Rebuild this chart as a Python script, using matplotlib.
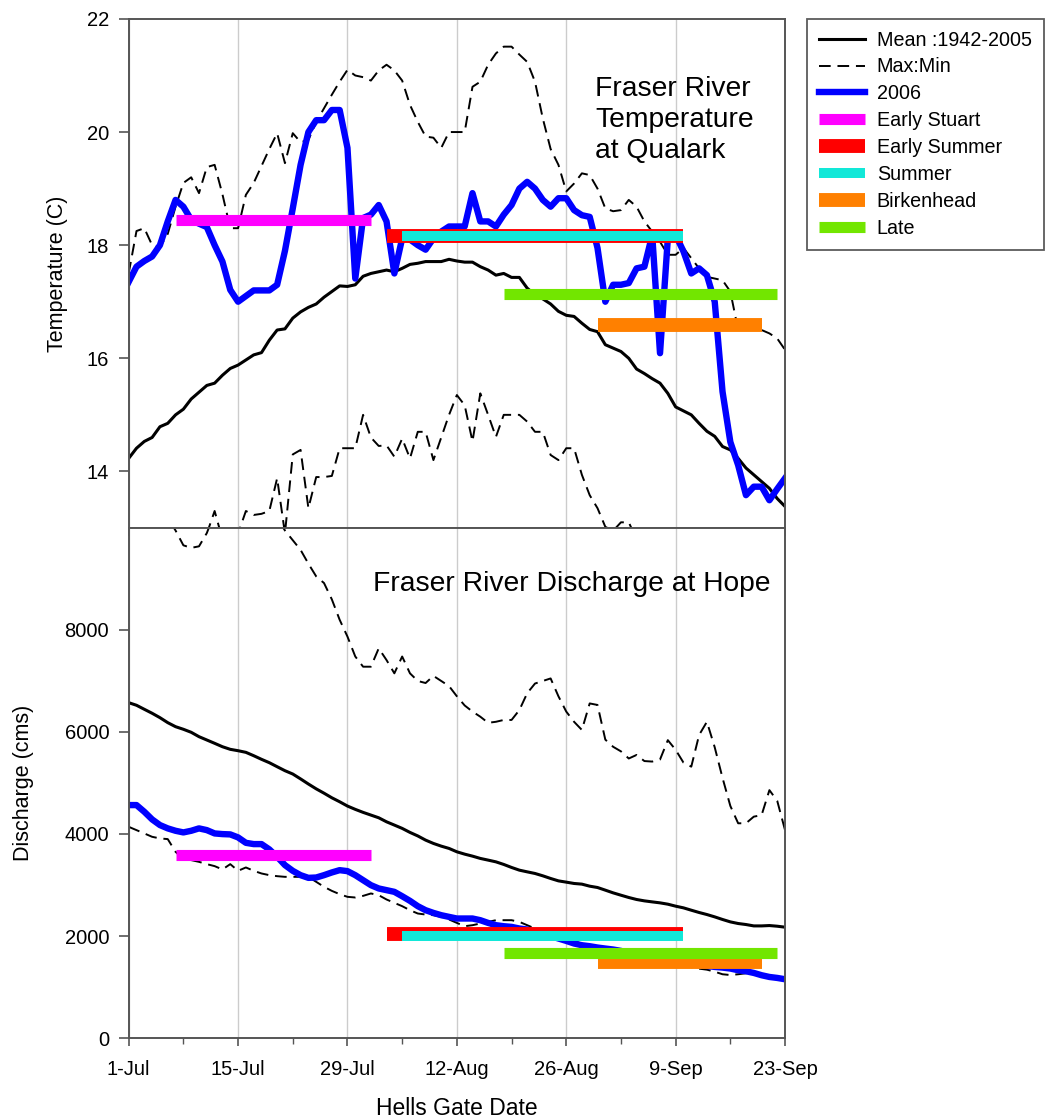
import matplotlib
matplotlib.use("Agg")
import matplotlib.pyplot as plt
from matplotlib.ticker import MultipleLocator, FixedLocator

plt.rcParams["font.family"] = ["Liberation Sans", "DejaVu Sans"]

# day index 0 = 1-Jul
TICK_DAYS = [0, 14, 28, 42, 56, 70, 84]
TICK_LABELS = ["1-Jul", "15-Jul", "29-Jul", "12-Aug", "26-Aug", "9-Sep", "23-Sep"]

TEMP_MEAN = [14.23, 14.41, 14.53, 14.60, 14.79, 14.85, 15.00, 15.10, 15.28, 15.40,
             15.52, 15.56, 15.70, 15.82, 15.88, 15.97, 16.06, 16.10, 16.32, 16.50,
             16.52, 16.71, 16.82, 16.90, 16.96, 17.08, 17.18, 17.28, 17.27, 17.30,
             17.45, 17.50, 17.53, 17.56, 17.53, 17.59, 17.66, 17.68, 17.71, 17.71,
             17.71, 17.75, 17.72, 17.70, 17.70, 17.62, 17.56, 17.47, 17.50, 17.43,
             17.43, 17.24, 17.12, 17.05, 16.96, 16.83, 16.76, 16.74, 16.62, 16.51,
             16.47, 16.24, 16.18, 16.12, 16.00, 15.81, 15.73, 15.64, 15.56, 15.38,
             15.14, 15.07, 15.00, 14.85, 14.71, 14.62, 14.44, 14.38, 14.23, 14.06,
             13.94, 13.82, 13.70, 13.52, 13.38]
TEMP_MAX = [17.5, 18.25, 18.3, 18.0, 17.97, 18.2, 18.68, 19.1, 19.2, 18.92,
            19.38, 19.42, 18.9, 18.3, 18.3, 18.89, 19.1, 19.4, 19.7, 19.98,
            19.45, 19.98, 19.82, 19.86, 20.18, 20.42, 20.66, 20.89, 21.1, 21.0,
            20.97, 20.91, 21.09, 21.19, 21.09, 20.91, 20.48, 20.18, 19.92, 19.9,
            19.72, 20.0, 20.0, 20.0, 20.8, 20.89, 21.19, 21.39, 21.51, 21.51,
            21.37, 21.24, 20.89, 20.24, 19.7, 19.42, 18.95, 19.09, 19.27, 19.24,
            19.0, 18.65, 18.6, 18.62, 18.8, 18.68, 18.42, 18.24, 18.06, 17.83,
            17.83, 17.95, 17.77, 17.59, 17.44, 17.41, 17.38, 17.18, 16.5, 16.5,
            16.5, 16.5, 16.44, 16.35, 16.15]
TEMP_MIN = [12.5, 12.4, 12.3, 12.2, 12.4, 12.6, 12.8, 12.6, 12.4, 12.6,
            12.9, 13.3, 12.8, 12.5, 12.9, 13.3, 13.23, 13.25, 13.3, 13.88,
            12.9, 14.3, 14.38, 13.35, 13.9, 13.9, 13.92, 14.41, 14.41, 14.41,
            15.0, 14.6, 14.45, 14.46, 14.26, 14.58, 14.23, 14.70, 14.7, 14.2,
            14.6, 15.0, 15.35, 15.17, 14.53, 15.38, 15.0, 14.61, 15.0, 15.0,
            15.0, 14.88, 14.7, 14.7, 14.29, 14.2, 14.41, 14.41, 13.94, 13.58,
            13.35, 13.02, 12.95, 13.1, 13.1, 12.8, 12.6, 12.4, 12.3, 12.2,
            12.0, 11.9, 11.8, 11.7, 11.6, 11.5, 11.3, 11.2, 11.0, 10.9,
            10.8, 10.6, 10.5, 10.4, 10.3]
TEMP_2006 = [17.35, 17.62, 17.72, 17.80, 18.0, 18.42, 18.80, 18.68, 18.45, 18.38,
             18.32, 18.0, 17.71, 17.21, 17.0, 17.1, 17.2, 17.2, 17.2, 17.3,
             17.9, 18.65, 19.42, 20.0, 20.21, 20.21, 20.39, 20.39, 19.72, 17.41,
             18.48, 18.54, 18.71, 18.42, 17.50, 18.12, 18.1, 18.0, 17.92, 18.12,
             18.24, 18.33, 18.33, 18.33, 18.92, 18.42, 18.42, 18.33, 18.54, 18.71,
             19.0, 19.12, 19.0, 18.80, 18.68, 18.83, 18.83, 18.62, 18.53, 18.5,
             17.95, 17.0, 17.3, 17.3, 17.33, 17.59, 17.62, 18.18, 16.09, 18.12,
             18.18, 17.89, 17.5, 17.59, 17.47, 17.0, 15.41, 14.52, 14.11, 13.58,
             13.73, 13.73, 13.49, 13.69, 13.88]

DIS_MEAN = [6575, 6524, 6445, 6367, 6281, 6183, 6104, 6053, 5994, 5908,
            5843, 5778, 5711, 5660, 5633, 5601, 5535, 5464, 5398, 5319,
            5241, 5176, 5080, 4980, 4885, 4800, 4710, 4632, 4548, 4483,
            4424, 4371, 4318, 4239, 4175, 4110, 4031, 3962, 3880, 3815,
            3762, 3717, 3651, 3605, 3566, 3521, 3488, 3454, 3403, 3344,
            3291, 3258, 3226, 3180, 3128, 3081, 3056, 3030, 3017, 2977,
            2951, 2899, 2846, 2800, 2755, 2716, 2689, 2669, 2650, 2624,
            2585, 2552, 2506, 2461, 2421, 2375, 2324, 2277, 2245, 2225,
            2198, 2198, 2205, 2192, 2173]
DIS_MAX = [10400, 10500, 10600, 10500, 10400, 10200, 9950, 9660, 9610, 9640,
           9900, 10300, 10600, 10900, 11000, 10800, 10700, 10500, 10400, 10200,
           9950, 9760, 9570, 9300, 9050, 8920, 8600, 8200, 7870, 7480,
           7280, 7280, 7640, 7410, 7150, 7480, 7150, 7000, 6960, 7100,
           7000, 6900, 6700, 6520, 6400, 6300, 6180, 6200, 6236, 6236,
           6430, 6760, 6950, 7000, 7050, 6700, 6400, 6200, 6040, 6560,
           6530, 5850, 5710, 5620, 5480, 5550, 5430, 5420, 5460, 5840,
           5650, 5400, 5320, 5940, 6200, 5700, 5100, 4550, 4210, 4210,
           4340, 4370, 4860, 4650, 4076]
DIS_MIN = [4141, 4076, 4011, 3945, 3913, 3900, 3651, 3507, 3488, 3454,
           3409, 3370, 3305, 3409, 3278, 3344, 3278, 3226, 3193, 3173,
           3160, 3160, 3160, 3160, 3062, 2964, 2885, 2820, 2768, 2755,
           2787, 2834, 2800, 2716, 2650, 2585, 2506, 2441, 2421, 2408,
           2375, 2324, 2257, 2192, 2212, 2245, 2277, 2310, 2310, 2310,
           2277, 2212, 2147, 2100, 2050, 2000, 1950, 1900, 1850, 1800,
           1760, 1720, 1690, 1660, 1630, 1600, 1570, 1540, 1510, 1480,
           1450, 1420, 1390, 1360, 1340, 1300, 1250, 1235, 1250, 1270,
           1276, 1231, 1197, 1178, 1152]
DIS_2006 = [4567, 4567, 4436, 4286, 4175, 4110, 4063, 4031, 4063, 4110,
            4076, 4011, 3998, 3992, 3933, 3827, 3802, 3802, 3698, 3553,
            3390, 3278, 3193, 3140, 3147, 3193, 3246, 3291, 3272, 3193,
            3095, 2997, 2932, 2899, 2866, 2780, 2689, 2585, 2506, 2453,
            2408, 2375, 2343, 2343, 2343, 2310, 2257, 2212, 2192, 2179,
            2147, 2127, 2080, 2049, 1996, 1951, 1904, 1853, 1819, 1800,
            1774, 1754, 1735, 1708, 1668, 1643, 1609, 1590, 1558, 1525,
            1492, 1472, 1446, 1427, 1413, 1394, 1381, 1362, 1329, 1309,
            1276, 1231, 1197, 1178, 1152]

# run timing at Hells Gate (start / end day), drawn as bars in both panels
RUN_NAMES = ["Early Stuart", "Early Summer", "Summer", "Birkenhead", "Late"]
RUN_START = [6, 33, 35, 60, 48]
RUN_END = [31, 71, 71, 81, 83]
RUN_TEMP = [18.45, 18.17, 18.17, 16.59, 17.14]
RUN_DIS = [3580, 2045, 2000, 1500, 1660]
RUN_COLORS = ["#ff00ff", "#ff0000", "#12e8d8", "#ff8000", "#72e600"]
RUN_LW = [8, 10, 7.2, 10, 8]

DAYS = list(range(len(TEMP_MEAN)))
SPINE = "#555555"


def style_axis(ax):
    for s in ax.spines.values():
        s.set_color(SPINE)
        s.set_linewidth(1.4)
    ax.set_xlim(0, 84)
    ax.xaxis.set_major_locator(FixedLocator(TICK_DAYS))
    ax.xaxis.set_minor_locator(MultipleLocator(7))
    ax.tick_params(axis="both", which="major", direction="out", length=7,
                   width=1.2, color=SPINE, labelsize=14.5, pad=7)
    ax.tick_params(axis="x", which="minor", direction="out", length=4,
                   width=1.0, color=SPINE)
    ax.tick_params(axis="x", which="major", length=5.5, pad=10)
    ax.grid(axis="x", which="major", color="#cccccc", linewidth=1.0)
    ax.set_axisbelow(True)


def draw_panel(ax, mean, vmax, vmin, v2006, run_y):
    ax.plot(DAYS, mean, color="black", lw=2.2, label="Mean :1942-2005")
    ax.plot(DAYS, vmax, color="black", lw=1.4, dashes=(6, 3.5), label="Max:Min")
    ax.plot(DAYS, vmin, color="black", lw=1.4, dashes=(6, 3.5))
    ax.plot(DAYS, v2006, color="#0000ff", lw=4.6, label="2006")
    for name, x0, x1, y, c, w in zip(RUN_NAMES, RUN_START, RUN_END, run_y,
                                     RUN_COLORS, RUN_LW):
        ax.plot([x0, x1], [y, y], color=c, lw=w, solid_capstyle="butt", label=name)


fig = plt.figure(figsize=(10.47, 11.2), dpi=100)
ax_t = fig.add_axes([0.1229, 0.5286, 0.6269, 0.4545])
ax_b = fig.add_axes([0.1229, 0.0732, 0.6269, 0.4554])

draw_panel(ax_t, TEMP_MEAN, TEMP_MAX, TEMP_MIN, TEMP_2006, RUN_TEMP)
draw_panel(ax_b, DIS_MEAN, DIS_MAX, DIS_MIN, DIS_2006, RUN_DIS)

style_axis(ax_t)
ax_t.set_ylim(13, 22)
ax_t.set_yticks([14, 16, 18, 20, 22])
ax_t.set_xticklabels([])
ax_t.set_ylabel("Temperature (C)", fontsize=15.5)
ax_t.yaxis.set_label_coords(-0.093, 0.5)
ax_t.text(0.7105, 0.888, "Fraser River\nTemperature\nat Qualark", transform=ax_t.transAxes,
          fontsize=20.3, ha="left", va="top", linespacing=1.25)

style_axis(ax_b)
ax_b.set_ylim(0, 10000)
ax_b.set_yticks([0, 2000, 4000, 6000, 8000])
ax_b.set_xticklabels(TICK_LABELS)
ax_b.set_ylabel("Discharge (cms)", fontsize=15.5)
ax_b.yaxis.set_label_coords(-0.145, 0.5)
ax_b.set_xlabel("Hells Gate Date", fontsize=16.5, labelpad=13)
ax_b.text(0.372, 0.877, "Fraser River Discharge at Hope", transform=ax_b.transAxes,
          fontsize=20.3, ha="left", va="baseline")

handles, labels = ax_t.get_legend_handles_labels()
leg = fig.legend(handles, labels, loc="upper left", bbox_to_anchor=(0.7705, 0.9833),
                 fontsize=14.2, frameon=True, fancybox=False, borderpad=0.6,
                 labelspacing=0.4, handlelength=2.35, handletextpad=0.6,
                 borderaxespad=0)
leg.get_frame().set_edgecolor("#333333")
leg.get_frame().set_linewidth(1.3)

fig.savefig("out.png", dpi=100)
